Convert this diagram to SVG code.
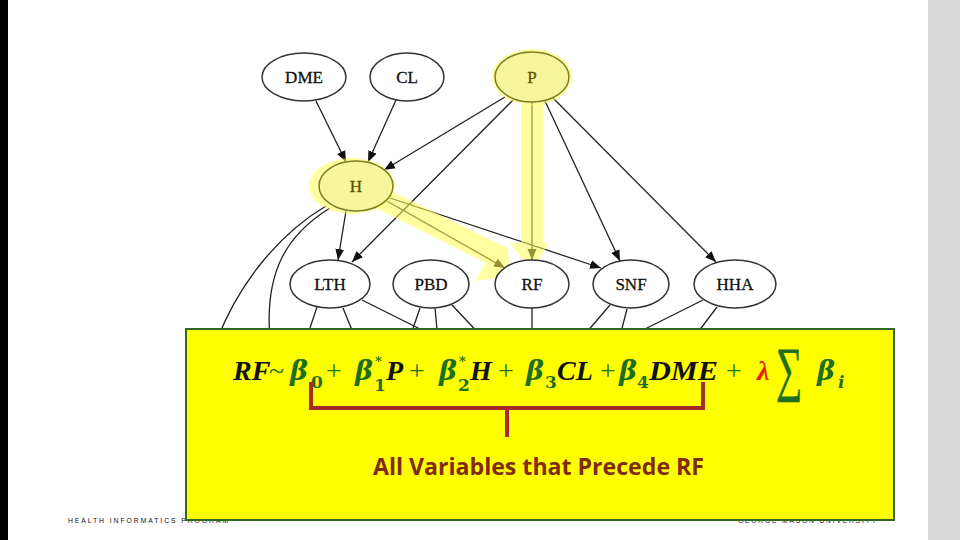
<svg xmlns="http://www.w3.org/2000/svg" width="960" height="540" viewBox="0 0 960 540">
<defs>
<marker id="ah" markerUnits="userSpaceOnUse" markerWidth="12" markerHeight="10" refX="11" refY="5" orient="auto">
<path d="M0,0.5 L11,5 L0,9.5 z" fill="#111"/>
</marker>
<style>
.e{stroke:#222;stroke-width:1.3;fill:none}
.a{marker-end:url(#ah)}
.n ellipse{fill:#fff;stroke:#333;stroke-width:1.5}
.n text{font-family:"Liberation Serif",serif;font-size:17px;fill:#111;text-anchor:middle;stroke:#111;stroke-width:0.3}
.hl ellipse{fill:#f6f69c;stroke:#7d7d2a}
.hl text{fill:#555500;stroke:#555500}
.band{fill:#ffff55;opacity:0.55}
.eq{font-family:"Liberation Serif",serif;font-size:28px;font-weight:bold;font-style:italic}
.b{font-family:"DejaVu Serif",serif;font-size:27px;font-weight:bold;font-style:italic;fill:#1f6e1f}
.g{fill:#1f6e1f}
.k{fill:#111}
.pl{font-family:"Liberation Serif",serif;font-size:28px;fill:#1f6e1f}
.sub{font-family:"DejaVu Serif",serif;font-size:17px;font-weight:bold;fill:#1f6e1f}
.ft{font-family:"Liberation Sans",sans-serif;font-size:7px;fill:#111;letter-spacing:2px}
</style>
</defs>
<rect x="0" y="0" width="960" height="540" fill="#fff"/>
<rect x="0" y="0" width="8" height="540" fill="#000"/>
<rect x="928" y="0" width="32" height="540" fill="#d9d9d9"/>

<g id="connectors">
<line class="e a" x1="316" y1="101" x2="346" y2="162"/>
<line class="e a" x1="396" y1="100" x2="368" y2="162"/>
<line class="e a" x1="505" y1="97" x2="384" y2="170"/>
<line class="e a" x1="513" y1="100" x2="352" y2="262"/>
<line class="e a" x1="532" y1="102" x2="532" y2="260"/>
<line class="e a" x1="545" y1="101" x2="620" y2="261"/>
<line class="e a" x1="553" y1="98" x2="716" y2="262"/>
<line class="e a" x1="346" y1="211" x2="338" y2="260"/>
<line class="e a" x1="385" y1="200" x2="505" y2="268"/>
<line class="e a" x1="390" y1="198" x2="601" y2="268"/>
<path class="e" d="M326,206 C282,232 240,280 217,340"/>
<path class="e" d="M330,208 C288,234 264,270 270,340"/>
<line class="e" x1="317" y1="307" x2="306" y2="340"/>
<line class="e" x1="343" y1="308" x2="356" y2="340"/>
<line class="e" x1="362" y1="300" x2="442" y2="340"/>
<line class="e" x1="420" y1="308" x2="409" y2="340"/>
<line class="e" x1="435" y1="308" x2="438" y2="340"/>
<line class="e" x1="452" y1="305" x2="485" y2="340"/>
<line class="e" x1="532" y1="308" x2="532" y2="340"/>
<line class="e" x1="610" y1="305" x2="580" y2="340"/>
<line class="e" x1="627" y1="309" x2="619" y2="340"/>
<line class="e" x1="703" y1="300" x2="623" y2="340"/>
<line class="e" x1="717" y1="307" x2="692" y2="340"/>
</g>

<g id="highlight">
<polygon class="band" points="521,104 543,104 543,243 549,243 532,271 510,243 521,243"/>
<polygon class="band" points="372,206 383,187 497,243 508,248 510,276 475,281 486,263"/>
<ellipse class="band" cx="532" cy="77" rx="40" ry="28"/>
<ellipse class="band" cx="352" cy="186" rx="43" ry="28"/>
</g>

<g id="n-DME" class="n"><ellipse cx="304" cy="77" rx="42" ry="24"/><text x="304" y="83">DME</text></g>
<g id="n-CL" class="n"><ellipse cx="407" cy="77" rx="37" ry="24"/><text x="407" y="83">CL</text></g>
<g id="n-P" class="n hl"><ellipse cx="532" cy="77" rx="37" ry="25"/><text x="532" y="83">P</text></g>
<g id="n-H" class="n hl"><ellipse cx="356" cy="186" rx="37" ry="25"/><text x="356" y="192">H</text></g>
<g id="n-LTH" class="n"><ellipse cx="330" cy="284" rx="40" ry="24"/><text x="330" y="290">LTH</text></g>
<g id="n-PBD" class="n"><ellipse cx="431" cy="284" rx="38" ry="24"/><text x="431" y="290">PBD</text></g>
<g id="n-RF" class="n"><ellipse cx="532" cy="284" rx="37" ry="24"/><text x="532" y="290">RF</text></g>
<g id="n-SNF" class="n"><ellipse cx="631" cy="284" rx="38" ry="24"/><text x="631" y="290">SNF</text></g>
<g id="n-HHA" class="n"><ellipse cx="735" cy="284" rx="41" ry="24"/><text x="735" y="290">HHA</text></g>

<text class="ft" x="68" y="523" textLength="162" lengthAdjust="spacingAndGlyphs">HEALTH INFORMATICS PROGRAM</text>
<text class="ft" x="738" y="523" textLength="140" lengthAdjust="spacingAndGlyphs">GEORGE MASON UNIVERSITY</text>

<g id="callout">
<rect x="186" y="329" width="708" height="191" fill="#ffff00" stroke="#2e6b1e" stroke-width="2"/>
<text class="eq k" x="233" y="380">RF</text>
<text class="pl" x="269" y="380">~</text>
<text class="b" x="290" y="380">β</text>
<text class="sub" x="311" y="388">0</text>
<text class="pl" x="326" y="380">+</text>
<text class="b" x="355" y="380">β</text>
<text class="sub" x="375" y="366" style="font-size:13px">*</text>
<text class="sub" x="374" y="391">1</text>
<text class="eq k" x="386" y="380">P</text>
<text class="pl" x="409" y="380">+</text>
<text class="b" x="439" y="380">β</text>
<text class="sub" x="459" y="366" style="font-size:13px">*</text>
<text class="sub" x="458" y="391">2</text>
<text class="eq k" x="470" y="380">H</text>
<text class="pl" x="498" y="380">+</text>
<text class="b" x="526" y="380">β</text>
<text class="sub" x="545" y="388">3</text>
<text class="eq k" x="557" y="380">CL</text>
<text class="pl" x="600" y="380">+</text>
<text class="b" x="619" y="380">β</text>
<text class="sub" x="637" y="388">4</text>
<text class="eq k" x="649" y="380" textLength="69" lengthAdjust="spacingAndGlyphs">DME</text>
<text class="pl" x="726" y="380">+</text>
<text class="eq" x="757" y="380" fill="#e6200c">λ</text>
<text class="pl" x="0" y="0" transform="translate(776,389) scale(0.8,1.3)" style="font-size:46px;stroke:#1f6e1f;stroke-width:0.6">∑</text>
<text class="b" x="817" y="380">β</text>
<text class="sub" x="838" y="388" style="font-style:italic">i</text>
<path d="M311,382 V408 H703 V382 M507,408 V437" fill="none" stroke="#a52a2a" stroke-width="4"/>
<text x="373" y="475" font-family="Open Sans, sans-serif" font-size="24" font-weight="bold" fill="#822a0e" textLength="331" lengthAdjust="spacingAndGlyphs">All Variables that Precede RF</text>
</g>
</svg>
